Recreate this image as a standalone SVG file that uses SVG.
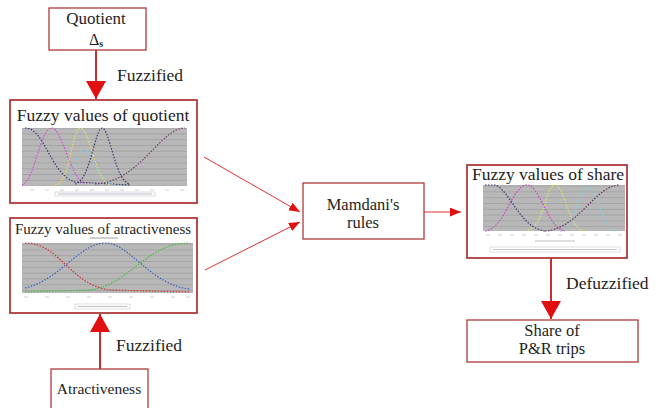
<svg xmlns="http://www.w3.org/2000/svg" width="656" height="408" viewBox="0 0 656 408">
<defs>
  <marker id="big" viewBox="0 0 18 20" refX="18" refY="10" markerWidth="18" markerHeight="20" markerUnits="userSpaceOnUse" orient="auto">
    <path d="M0,0 L18,10 L0,20 Z" fill="#e01010"/>
  </marker>
  <marker id="small" viewBox="0 0 10 8" refX="10" refY="4" markerWidth="11" markerHeight="9" markerUnits="userSpaceOnUse" orient="auto">
    <path d="M0,0 L10,4 L0,8 Z" fill="#e01010"/>
  </marker>
  <pattern id="grid" width="10" height="5.8" patternUnits="userSpaceOnUse">
    <rect width="10" height="5.8" fill="#b8b8b8"/>
    <line x1="0" y1="0.3" x2="10" y2="0.3" stroke="#8e8e8e" stroke-width="0.6"/>
  </pattern>
</defs>
<style>
  .box{fill:#fff;stroke:#b03a3a;stroke-width:1.3}
  .panel{fill:#fff;stroke:#b03a3a;stroke-width:1.8}
  .t{font-family:'Liberation Serif','Times New Roman',serif;fill:#1e1e1e;text-anchor:middle}
  .lab{font-family:'Liberation Serif','Times New Roman',serif;fill:#1e1e1e;font-size:17.5px}
  .thick{stroke:#c83030;stroke-width:2;fill:none}
  .thin{stroke:#e03030;stroke-width:1;fill:none}
  .c{fill:none;stroke-width:1.2;stroke-dasharray:1.5 1.5}
  .tick{stroke:#d0d0d0;stroke-width:1}
  .leg{fill:#fff;stroke:#c8c8c8;stroke-width:0.6}
</style>

<g id="connectors">
  <line class="thick" x1="96" y1="50" x2="96" y2="99" marker-end="url(#big)"/>
  <text class="lab" font-family="Liberation Serif, serif" x="117" y="81">Fuzzified</text>
  <line class="thick" x1="100" y1="369" x2="100" y2="314" marker-end="url(#big)"/>
  <text class="lab" font-family="Liberation Serif, serif" x="116" y="351">Fuzzified</text>
  <line class="thin" x1="204" y1="157" x2="300" y2="212" marker-end="url(#small)"/>
  <line class="thin" x1="205" y1="270" x2="300" y2="222" marker-end="url(#small)"/>
  <line class="thin" x1="424" y1="212" x2="461" y2="212" marker-end="url(#small)"/>
  <line class="thick" x1="551" y1="258" x2="551" y2="319" marker-end="url(#big)"/>
  <text class="lab" font-family="Liberation Serif, serif" x="566" y="289" font-size="18.5">Defuzzified</text>
</g>

<g id="quotient">
  <rect class="box" x="49" y="8" width="97" height="42"/>
  <text class="t" font-family="Liberation Serif, serif" x="96" y="24" font-size="17">Quotient</text>
  <text class="t" font-family="Liberation Serif, serif" x="96" y="45" font-size="16">Δ<tspan font-size="10" font-weight="bold" dy="2">s</tspan></text>
</g>

<g id="fuzzy-quotient">
  <rect class="panel" x="10" y="100" width="187" height="103"/>
  <text class="t" font-family="Liberation Serif, serif" x="103" y="121" font-size="17.5">Fuzzy values of quotient</text>
  <rect x="22" y="128" width="165" height="58" fill="url(#grid)"/>
  <path class="c" stroke="#3a3a70" d="M25,128 C45,128 50,174 75,182 L130,185"/>
  <path class="c" stroke="#d050d0" d="M22,185 C35,180 40,128 52,128 C62,128 70,178 85,184"/>
  <path class="c" stroke="#e8e060" d="M55,185 C70,185 72,128 80,128 C90,128 95,180 110,185"/>
  <path class="c" stroke="#80d0e0" d="M62,185 C72,184 75,150 84,150 C92,150 95,183 115,185"/>
  <path class="c" stroke="#3a3a70" d="M75,184 C90,182 95,128 102,128 C110,128 115,182 130,184"/>
  <path class="c" stroke="#704070" d="M95,184 C140,182 160,128 185,128"/>
  <g class="tick"><line x1="30" y1="190" x2="34" y2="190"/><line x1="45" y1="190" x2="49" y2="190"/><line x1="60" y1="190" x2="64" y2="190"/><line x1="75" y1="190" x2="79" y2="190"/><line x1="90" y1="190" x2="94" y2="190"/><line x1="105" y1="190" x2="109" y2="190"/><line x1="120" y1="190" x2="124" y2="190"/><line x1="135" y1="190" x2="139" y2="190"/><line x1="150" y1="190" x2="154" y2="190"/><line x1="165" y1="190" x2="169" y2="190"/><line x1="180" y1="190" x2="184" y2="190"/></g>
  <rect class="leg" x="55" y="192" width="100" height="4"/>
  <line x1="58" y1="194" x2="152" y2="194" stroke="#9090b0" stroke-width="0.6"/>
</g>

<g id="fuzzy-atractiveness">
  <rect class="panel" x="10" y="218" width="187" height="95"/>
  <text class="t" font-family="Liberation Serif, serif" x="103" y="234" font-size="15">Fuzzy values of atractiveness</text>
  <rect x="90" y="237" width="28" height="2" fill="#d0d0d0"/>
  <rect x="22" y="243" width="171" height="50" fill="url(#grid)"/>
  <path class="c" stroke="#d03030" d="M25,243 C60,243 70,285 110,290 L190,292"/>
  <path class="c" stroke="#4060c0" d="M25,288 C60,280 80,243 105,243 C130,243 150,285 190,289"/>
  <path class="c" stroke="#40c040" d="M25,292 L90,290 C130,285 145,243 190,243"/>
  <g class="tick"><line x1="24" y1="297" x2="28" y2="297"/><line x1="45" y1="297" x2="49" y2="297"/><line x1="66" y1="297" x2="70" y2="297"/><line x1="87" y1="297" x2="91" y2="297"/><line x1="108" y1="297" x2="112" y2="297"/><line x1="129" y1="297" x2="133" y2="297"/><line x1="150" y1="297" x2="154" y2="297"/><line x1="171" y1="297" x2="175" y2="297"/><line x1="186" y1="297" x2="190" y2="297"/></g>
  <rect class="leg" x="75" y="304" width="55" height="5"/>
  <line x1="78" y1="306.5" x2="127" y2="306.5" stroke="#9090a0" stroke-width="0.6"/>
</g>

<g id="atractiveness">
  <rect class="box" x="51" y="369" width="97" height="45"/>
  <text class="t" font-family="Liberation Serif, serif" x="99" y="394" font-size="15.5">Atractiveness</text>
</g>

<g id="mamdani">
  <rect class="box" x="303" y="183" width="121" height="56"/>
  <text class="t" font-family="Liberation Serif, serif" x="363" y="210" font-size="16.5">Mamdani's</text>
  <text class="t" font-family="Liberation Serif, serif" x="363" y="228" font-size="16.5">rules</text>
</g>

<g id="fuzzy-share">
  <rect class="panel" x="467" y="165" width="160" height="93"/>
  <text class="t" font-family="Liberation Serif, serif" x="548" y="180" font-size="17.5">Fuzzy values of share</text>
  <rect x="483" y="185" width="142" height="46" fill="url(#grid)"/>
  <path class="c" stroke="#80d0e0" d="M560,231 C575,230 578,188 588,188 C598,188 602,230 615,231"/>
  <path class="c" stroke="#e8e060" d="M525,231 C545,229 545,185 555,185 C565,185 568,229 585,231"/>
  <path class="c" stroke="#d040d0" d="M485,231 C505,229 512,185 527,185 C540,185 548,229 565,231"/>
  <path class="c" stroke="#3a3a70" d="M485,185 L495,185 C510,190 520,228 545,231"/>
  <path class="c" stroke="#603060" d="M545,231 C580,228 595,185 620,185"/>
  <g class="tick"><line x1="486" y1="235" x2="490" y2="235"/><line x1="498" y1="235" x2="502" y2="235"/><line x1="510" y1="235" x2="514" y2="235"/><line x1="522" y1="235" x2="526" y2="235"/><line x1="534" y1="235" x2="538" y2="235"/><line x1="546" y1="235" x2="550" y2="235"/><line x1="558" y1="235" x2="562" y2="235"/><line x1="570" y1="235" x2="574" y2="235"/><line x1="582" y1="235" x2="586" y2="235"/><line x1="594" y1="235" x2="598" y2="235"/><line x1="606" y1="235" x2="610" y2="235"/><line x1="618" y1="235" x2="622" y2="235"/></g>
  <line x1="535" y1="241" x2="575" y2="241" stroke="#c0c0c0" stroke-width="1"/>
  <rect class="leg" x="490" y="247" width="130" height="5"/>
  <line x1="493" y1="249.5" x2="617" y2="249.5" stroke="#a0a0c0" stroke-width="0.6"/>
</g>

<g id="share-trips">
  <rect class="box" x="467" y="320" width="171" height="42"/>
  <text class="t" font-family="Liberation Serif, serif" x="552" y="336" font-size="16.5">Share of</text>
  <text class="t" font-family="Liberation Serif, serif" x="552" y="354" font-size="16.5">P&amp;R trips</text>
</g>
</svg>
